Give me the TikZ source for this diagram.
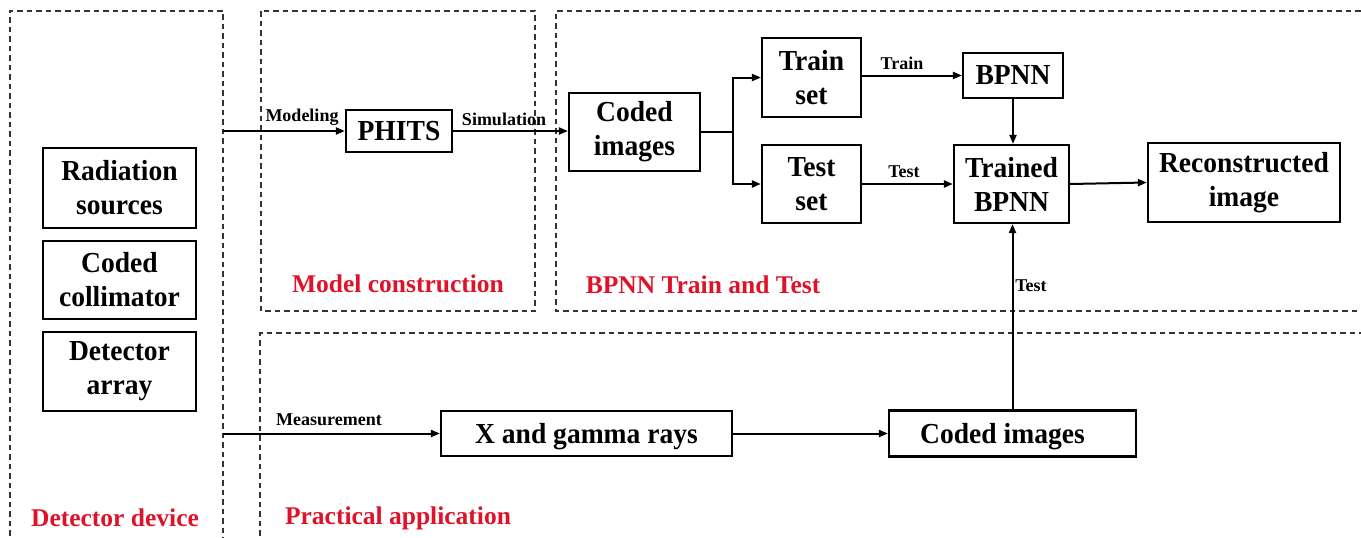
\documentclass[tikz,border=0pt]{standalone}
\usepackage{fontspec}
\setmainfont{Liberation Serif}
\newfontfamily\boxfont{Liberation Serif}[FakeStretch=0.95]
\usetikzlibrary{arrows.meta}
\definecolor{labelred}{RGB}{222,18,40}
\begin{document}
\begin{tikzpicture}[x=1pt,y=-1pt,
  box/.style={draw,line width=2.2pt,inner sep=0pt,align=center,
    font=\boxfont\fontsize{29}{34}\selectfont\bfseries},
  oneline/.style={text depth=0pt},
  region/.style={draw=black!80,line width=1.5pt,dash pattern=on 5.5pt off 4pt},
  link/.style={line width=2pt,-{Triangle[length=9pt,width=7pt]}},
  tag/.style={font=\fontsize{18}{20}\selectfont\bfseries,inner sep=0pt},
  title/.style={text=labelred,font=\fontsize{25.5}{28}\selectfont\bfseries,inner sep=0pt}]
\useasboundingbox (0,0) rectangle (1361,538);

% dashed regions
\draw[region] (10,545) -- (10,11) -- (223,11) -- (223,545);
\draw[region] (261,11) rectangle (535,311);
\draw[region] (1370,11) -- (556,11) -- (556,311) -- (1370,311);
\draw[region] (260,545) -- (260,333) -- (1370,333);

% detector device components
\node[box,minimum width=153pt,minimum height=80pt] (rad) at (119.5,188) {Radiation\\sources};
\node[box,minimum width=153pt,minimum height=78pt] (coll) at (119.5,280) {Coded\\collimator};
\node[box,minimum width=153pt,minimum height=79pt] (det) at (119.5,371.5) {Detector\\array};

% model construction and training chain
\node[box,oneline,minimum width=106pt,minimum height=42pt] (phits) at (399,131) {PHITS};
\node[box,minimum width=131pt,minimum height=78pt] (coded) at (634.5,132) {Coded\\images};
\node[box,minimum width=99pt,minimum height=79pt] (train) at (811.5,77.5) {Train\\set};
\node[box,minimum width=99pt,minimum height=78pt] (test) at (811.5,184) {Test\\set};
\node[box,oneline,minimum width=100pt,minimum height=45pt] (bpnn) at (1013,75.5) {BPNN};
\node[box,minimum width=115pt,minimum height=78pt] (trained) at (1011.5,184) {Trained\\BPNN};
\node[box,minimum width=192pt,minimum height=79pt] (recon) at (1244,182.5) {Reconstructed\\image};

% practical application chain
\node[box,oneline,minimum width=291pt,minimum height=45pt] (xray) at (586.5,433.5) {X and gamma rays};
\node[box,oneline,minimum width=247pt,minimum height=46pt] (coded2) at (1012.5,433.5) {\hspace*{-20pt}Coded images};

% connectors
\coordinate (mstart) at (223,131);
\coordinate (pstart) at (223,433.5);
\draw[link] (mstart) -- (phits.west);
\draw[link] (phits.east) -- (coded.west|-phits.east);
\draw[line width=2pt] (coded.east) -- ++(32,0) coordinate (br);
\draw[link] (br) |- (train.west);
\draw[link] (br) |- (test.west);
\draw[link] (train.east|-bpnn.west) -- (bpnn.west);
\draw[link] (bpnn.south) -- (bpnn.south|-trained.north);
\draw[link] (test.east) -- (trained.west);
\draw[link] (trained.east) -- (recon.west);
\draw[link] (pstart) -- (xray.west);
\draw[link] (xray.east) -- (coded2.west);
\draw[link] (coded2.north) -- (coded2.north|-trained.south);

% connector labels
\node[tag] (lmod) at (302,117) {Modeling};
\node[tag] (lsim) at (504,119) {Simulation};
\node[tag] (ltrain) at (902,63) {Train};
\node[tag] (ltest) at (904,172) {Test};
\node[tag] (lmeas) at (329,420) {Measurement};
\node[tag] (ltest2) at (1031,286) {Test};

% region titles
\node[title] (tmodel) at (398,284) {Model construction};
\node[title] (tbpnn) at (703,285) {BPNN Train and Test};
\node[title] (tdet) at (115,518) {Detector device};
\node[title] (tprac) at (398,518) {Practical application};
\end{tikzpicture}
\end{document}
